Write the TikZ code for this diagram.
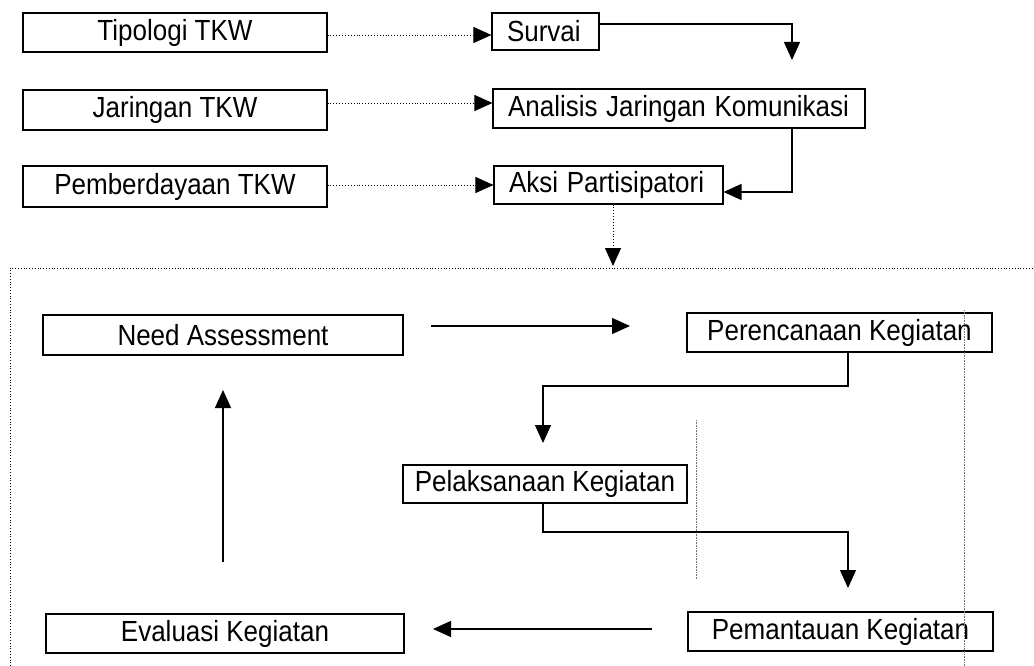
\documentclass[tikz,border=0pt]{standalone}
\usepackage{fontspec}
\usepackage{graphicx}
\setmainfont{Liberation Sans}
\newcommand{\tx}[1]{\scalebox{1}[1.12]{#1}}
\usetikzlibrary{arrows.meta,calc}
\begin{document}
\begin{tikzpicture}[x=1pt,y=-1pt,
  box/.style={draw,line width=1.1pt,inner sep=0pt,font=\fontsize{26}{30}\selectfont},
  tip/.style={-{Triangle[length=18pt,width=16pt]}},
  solidarr/.style={tip,line width=1.3pt},
  dotarr/.style={tip,line width=0.9pt,dotted},
  frameline/.style={line width=0.8pt,dotted},
  ghost/.style={line width=0.6pt,densely dotted,black!55}]
\useasboundingbox (0,0) rectangle (1034,666);
% top boxes
\node[box,minimum width=304pt,minimum height=39pt] (tipo) at (175,32.5) {\tx{Tipologi TKW}};
\node[box,minimum width=304pt,minimum height=40pt] (jar) at (175,110) {\tx{Jaringan TKW}};
\node[box,minimum width=304pt,minimum height=41pt] (pemb) at (175,186.5) {\tx{Pemberdayaan TKW}};
\node[box,minimum width=107pt,minimum height=37pt,text width=77pt,align=left] (sur) at (545.5,31.5) {\tx{Survai}};
\node[box,minimum width=372pt,minimum height=39pt,text width=342pt,align=left] (ana) at (679,108.5) {\tx{Analisis Jaringan Komunikasi}};
\node[box,minimum width=229pt,minimum height=38pt,text width=199pt,align=left] (aks) at (608.5,185) {\tx{Aksi Partisipatori}};
% lower boxes
\node[box,minimum width=360pt,minimum height=40pt] (need) at (223,335) {\tx{Need Assessment}};
\node[box,minimum width=305pt,minimum height=39pt] (per) at (839.5,332.5) {\tx{Perencanaan Kegiatan}};
\node[box,minimum width=284pt,minimum height=38pt] (pel) at (545,484) {\tx{Pelaksanaan Kegiatan}};
\node[box,minimum width=358pt,minimum height=39pt] (eva) at (225,633.5) {\tx{Evaluasi Kegiatan}};
\node[box,minimum width=305pt,minimum height=39pt] (pma) at (840.5,631.5) {\tx{Pemantauan Kegiatan}};
% frame
\coordinate (ftl) at (10,268);
\coordinate (ftr) at (1034,268);
\coordinate (fbl) at (10,666);
\draw[frameline] (fbl) -- (ftl) -- (ftr);
% faint scan lines
\coordinate (g1a) at (964,310); \coordinate (g1b) at (964,666);
\coordinate (g2a) at (696,420); \coordinate (g2b) at (696,580);
\draw[ghost] (g1a) -- (g1b);
\draw[ghost] (g2a) -- (g2b);
% top connectors
\draw[dotarr] (tipo.east |- 0,35) -- (sur.west |- 0,35);
\draw[dotarr] (jar.east |- 0,103) -- (ana.west |- 0,103);
\draw[dotarr] (pemb.east |- 0,185) -- (aks.west |- 0,185);
\coordinate (c1) at (792,24);
\coordinate (c1e) at (792,60);
\draw[solidarr] (sur.east |- c1) -- (c1) -- (c1e);
\coordinate (c2) at (792,192);
\draw[solidarr] (ana.south -| c2) -- (c2) -- (aks.east |- c2);
\coordinate (c3) at (613,266);
\draw[dotarr] (aks.south -| c3) -- (c3);
% lower connectors
\coordinate (n1) at (431,326);
\coordinate (n2) at (630,326);
\draw[solidarr] (n1) -- (n2);
\coordinate (p1) at (848,386);
\coordinate (p2) at (543,386);
\coordinate (p3) at (543,443);
\draw[solidarr] (per.south -| p1) -- (p1) -- (p2) -- (p3);
\coordinate (q1) at (543,532);
\coordinate (q2) at (848,532);
\coordinate (q3) at (848,588);
\draw[solidarr] (pel.south -| q1) -- (q1) -- (q2) -- (q3);
\coordinate (r1) at (652,629);
\coordinate (r2) at (433,629);
\draw[solidarr] (r1) -- (r2);
\coordinate (s1) at (223,562);
\coordinate (s2) at (223,390);
\draw[solidarr] (s1) -- (s2);
\end{tikzpicture}
\end{document}
